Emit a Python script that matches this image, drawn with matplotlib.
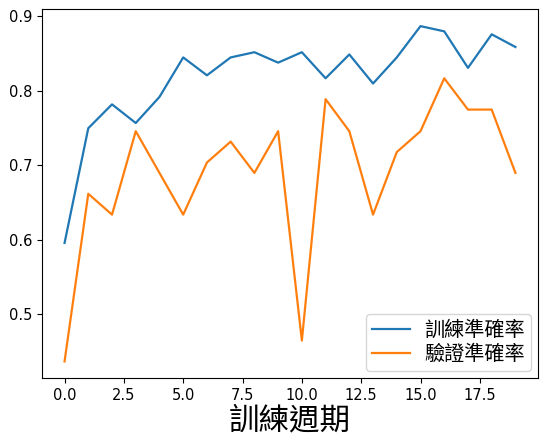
import matplotlib
matplotlib.use("Agg")
import matplotlib.pyplot as plt

plt.rcParams['font.family'] = ['DejaVu Sans', 'Noto Sans CJK TC']

epochs = list(range(20))
train_acc = [0.596, 0.750, 0.782, 0.757, 0.792, 0.845, 0.821, 0.845, 0.852, 0.838,
             0.852, 0.817, 0.849, 0.810, 0.845, 0.887, 0.880, 0.831, 0.876, 0.859]
val_acc = [0.437, 0.662, 0.634, 0.746, 0.690, 0.634, 0.704, 0.732, 0.690, 0.746,
           0.465, 0.789, 0.746, 0.634, 0.718, 0.746, 0.817, 0.775, 0.775, 0.690]
labels = ['訓練準確率', '驗證準確率']
xlabel = '訓練週期'

fig = plt.figure(figsize=(5.47, 4.46), dpi=100)
ax = fig.add_axes([0.0768, 0.152, 0.9067, 0.827])
ax.plot(epochs, train_acc, label=labels[0], lw=1.6)
ax.plot(epochs, val_acc, label=labels[1], lw=1.6)
ax.tick_params(labelsize=10.5)
ax.set_xlabel(xlabel, fontsize=22, family=['Noto Sans CJK TC'], labelpad=2)
ax.legend(loc='lower right', prop={'family': ['Noto Sans CJK TC'], 'size': 14.5},
          labelspacing=0.15, borderpad=0.3, borderaxespad=0.35,
          handlelength=1.9, handletextpad=0.7)
fig.savefig('out.png', dpi=100)
